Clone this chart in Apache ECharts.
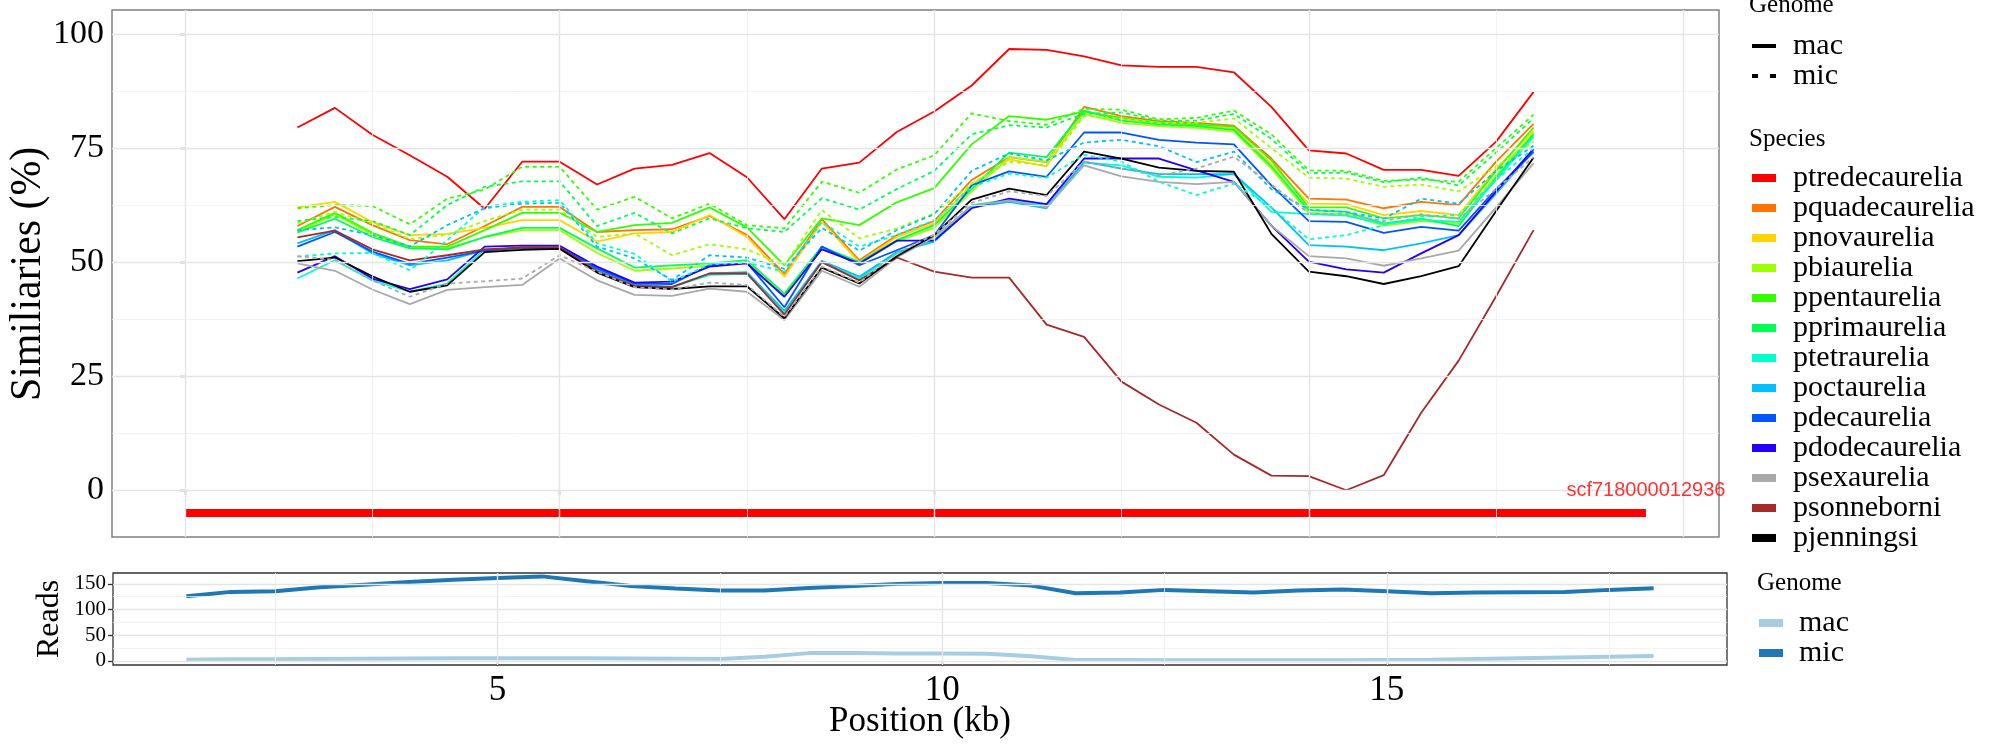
<!DOCTYPE html>
<html>
<head>
<meta charset="utf-8">
<script src="https://cdn.jsdelivr.net/npm/echarts@6/dist/echarts.min.js"></script>
<style>html,body{margin:0;padding:0;background:#fff;}#chart{width:2000px;height:750px;}</style>
</head>
<body>
<div id="chart"></div>
<script>
// ---------------- data ----------------
const positions = [1.5,2,2.5,3,3.5,4,4.5,5,5.5,6,6.5,7,7.5,8,8.5,9,9.5,10,10.5,11,11.5,12,12.5,13,13.5,14,14.5,15,15.5,16,16.5,17,17.5,18];

const species = ['ptredecaurelia','pquadecaurelia','pnovaurelia','pbiaurelia','ppentaurelia','pprimaurelia','ptetraurelia','poctaurelia','pdecaurelia','pdodecaurelia','psexaurelia','psonneborni','pjenningsi'];
const speciesColors = ['#FF0000','#FF7500','#FFD400','#9EFF00','#33FF00','#00FF55','#00FFCC','#00C0FF','#0055FF','#2200FF','#A9A9A9','#A52A2A','#000000'];

// similarity (%) - mac genome (solid)
const ptredecaurelia_mac = [79.5,83.8,77.9,73.4,68.7,61.7,72.0,72.0,67.0,70.5,71.3,73.9,68.6,59.4,70.5,71.8,78.5,83.0,88.7,96.7,96.5,95.1,93.1,92.8,92.8,91.6,84.0,74.5,73.8,70.2,70.2,68.9,76.4,87.3];
const pquadecaurelia_mac = [57.9,62.1,58.1,54.8,53.9,57.9,62.1,62.1,56.6,57.0,57.2,60.1,56.0,47.4,59.4,50.4,55.9,59.0,68.0,73.0,71.9,84.0,82.0,80.9,80.5,79.9,72.7,63.9,63.7,61.8,63.2,62.5,72.0,80.3];
const pnovaurelia_mac = [62.0,63.2,58.8,55.9,56.2,57.5,59.2,59.2,54.5,56.3,56.6,60.3,55.5,46.8,58.8,50.0,55.5,58.5,67.0,72.5,71.0,83.0,81.5,80.5,80.0,79.3,71.5,62.8,62.7,60.3,61.2,60.3,70.5,78.8];
const pbiaurelia_mac = [56.5,60.5,56.0,53.2,53.0,55.5,57.0,57.0,52.0,48.1,48.6,49.2,50.0,42.6,53.0,49.6,54.5,57.5,65.5,73.0,72.0,82.5,80.5,79.8,79.4,78.6,70.5,60.8,60.5,58.0,59.0,58.5,69.0,78.4];
const ppentaurelia_mac = [57.0,60.8,56.4,53.4,53.4,57.0,60.8,60.8,56.6,58.1,58.6,62.0,57.6,49.3,59.6,58.1,63.1,66.2,75.8,82.0,81.2,83.0,81.6,80.5,80.2,79.7,72.3,62.0,62.0,59.6,60.3,59.6,70.0,79.5];
const pprimaurelia_mac = [56.5,59.5,55.5,53.0,52.8,55.5,57.5,57.5,53.0,48.8,49.3,49.7,50.4,43.1,53.4,50.0,54.8,58.1,66.0,74.0,73.0,83.2,81.0,80.2,79.8,79.0,71.0,61.4,61.0,58.5,59.5,57.9,68.5,78.0];
const ptetraurelia_mac = [46.4,50.4,46.0,43.5,45.3,52.8,53.0,53.0,48.0,44.8,44.5,47.2,47.4,38.8,50.0,46.4,51.9,54.8,62.5,63.7,62.3,71.8,71.2,68.7,68.5,69.3,61.0,60.5,60.2,58.3,59.3,58.8,68.0,77.5];
const poctaurelia_mac = [54.1,57.0,51.9,49.3,50.4,52.6,53.0,53.0,48.3,45.0,44.6,47.5,47.8,39.3,50.3,46.8,52.2,54.5,62.0,63.2,61.8,72.0,70.5,69.3,69.3,69.3,62.0,53.7,53.4,52.6,54.1,55.9,65.0,74.5];
const pdecaurelia_mac = [53.4,56.6,52.3,49.6,51.0,52.5,53.2,53.2,48.6,45.3,45.2,49.3,49.9,40.1,53.4,49.3,52.6,55.9,66.8,69.9,68.7,78.4,78.4,76.8,76.2,75.8,66.8,59.0,58.8,56.4,57.7,56.9,66.0,74.1];
const pdodecaurelia_mac = [47.7,51.3,46.4,44.1,46.2,53.4,53.6,53.6,49.0,45.5,45.7,49.0,49.7,42.4,52.8,49.7,54.7,54.7,61.8,63.9,62.7,72.7,72.7,72.7,70.1,67.6,58.0,50.1,48.4,47.7,51.9,55.9,65.5,74.8];
const psexaurelia_mac = [49.7,48.1,44.0,40.8,43.9,44.5,45.0,50.8,46.0,42.8,42.6,44.2,43.5,37.3,48.1,44.6,51.0,55.5,62.3,63.5,62.0,71.2,68.8,67.6,67.1,67.6,58.0,51.3,50.8,49.2,50.8,52.5,62.0,71.7];
const psonneborni_mac = [55.4,56.9,52.8,50.4,51.5,52.8,53.2,53.2,48.0,44.8,44.5,47.5,47.5,38.5,50.0,46.0,51.0,47.9,46.6,46.6,36.3,33.6,23.8,18.8,14.8,7.8,3.2,3.1,0.0,3.3,17.0,28.4,42.5,57.0];
const pjenningsi_mac = [50.2,51.0,46.9,43.5,44.9,52.2,52.7,52.9,47.7,44.5,44.1,44.7,44.7,37.7,48.8,45.3,51.3,55.9,63.7,66.1,64.7,74.2,72.7,70.7,70.0,69.8,56.2,47.9,46.9,45.2,46.9,49.1,61.2,72.9];

// similarity (%) - mic genome (dashed)
const pbiaurelia_mic = [58.5,61.0,58.5,55.0,56.0,59.0,61.5,61.5,55.5,56.3,51.5,53.9,52.8,49.3,61.4,55.2,57.4,60.7,67.2,72.0,71.2,82.0,81.5,80.5,80.5,81.5,75.0,68.5,68.3,66.5,67.0,65.5,71.0,76.4];
const ppentaurelia_mic = [61.8,62.5,62.3,58.3,63.9,65.9,70.9,70.9,61.5,64.3,59.6,62.8,58.1,57.4,67.6,65.2,70.3,73.4,82.6,80.9,80.1,83.6,83.4,81.3,81.6,83.2,78.0,70.1,70.0,67.8,68.1,67.6,75.0,82.3];
const pprimaurelia_mic = [59.0,59.9,59.0,55.9,62.5,66.5,67.7,67.7,57.9,60.8,56.3,59.6,57.4,56.6,64.0,61.5,66.0,70.0,78.0,80.0,79.5,82.5,82.8,81.0,81.0,82.5,77.0,69.5,69.6,67.5,68.5,66.8,74.0,81.5];
const ptetraurelia_mic = [51.2,51.9,52.0,48.2,54.8,62.1,63.2,63.6,54.1,51.8,45.7,49.5,49.9,47.9,58.8,53.4,55.9,59.2,66.5,69.4,68.5,73.5,72.0,67.6,64.7,67.2,62.0,55.0,55.9,58.1,60.0,60.3,68.0,75.0];
const poctaurelia_mic = [57.0,57.6,55.9,53.4,58.1,61.8,62.8,63.0,53.4,50.8,46.1,51.5,51.0,48.5,57.5,52.5,57.0,60.5,70.0,73.8,72.3,76.2,76.8,75.4,71.9,74.2,66.0,61.5,61.0,59.5,63.9,62.8,70.0,75.5];
const psexaurelia_mic = [51.3,50.5,46.0,42.4,45.3,45.8,46.4,51.5,47.9,44.5,44.0,45.5,45.0,38.0,49.0,45.5,52.0,56.0,63.0,65.5,64.5,72.0,70.5,69.0,70.5,73.1,67.0,60.7,60.5,59.0,60.5,59.5,66.0,73.0];

// contig bar
const contigName = 'scf718000012936';
const contigStart = 0;
const contigEnd = 19.5;
const contigY = -5;

// read counts
const reads_mac = [2,3,3,3.5,4,4.5,5,5,5,5,4.5,4,3.5,8,15,15,14.5,14.5,14,9,1.5,1.5,1,1,1,1,1,1.5,2,3.5,5,6.5,8,9.5];
const reads_mic = [126,134.4,135.7,143.4,148.5,153.7,158.2,161.4,164.6,155,146,140.8,137,137,142,146,150,151.8,151.8,146.6,131.8,133,138.3,135.7,133,137,139,135.7,131.8,133,133.8,134.4,138.3,141.5];

// tick labels
const simTicks = [0,25,50,75,100];
const simMinor = [12.5,37.5,62.5,87.5];
const topXTicks = [0,5,10,15,20];
const topXMinor = [2.5,7.5,12.5,17.5];
const readTicks = [0,50,100,150];
const readMinor = [25,75,125];
const kbTicks = [5,10,15];
const kbMinor = [2.5,7.5,12.5,17.5];

// ---------------- chart ----------------
const macArrays = {ptredecaurelia:ptredecaurelia_mac,pquadecaurelia:pquadecaurelia_mac,pnovaurelia:pnovaurelia_mac,pbiaurelia:pbiaurelia_mac,ppentaurelia:ppentaurelia_mac,pprimaurelia:pprimaurelia_mac,ptetraurelia:ptetraurelia_mac,poctaurelia:poctaurelia_mac,pdecaurelia:pdecaurelia_mac,pdodecaurelia:pdodecaurelia_mac,psexaurelia:psexaurelia_mac,psonneborni:psonneborni_mac,pjenningsi:pjenningsi_mac};
const micArrays = {pbiaurelia:pbiaurelia_mic,ppentaurelia:ppentaurelia_mic,pprimaurelia:pprimaurelia_mic,ptetraurelia:ptetraurelia_mic,poctaurelia:poctaurelia_mic,psexaurelia:psexaurelia_mic};

const SERIF = '"Liberation Serif","Times New Roman",serif';
const pair = (arr) => arr.map((v,i)=>[positions[i], v]);
const colorOf = {};
species.forEach((s,i)=>colorOf[s]=speciesColors[i]);

const majorGrid = {color:'#E5E5E5', width:1.4, type:'solid'};
const minorGrid = {color:'#F0F0F0', width:0.8, type:'solid'};
function gridLines(xMaj,xMin,yMaj,yMin){
  const d=[];
  xMin.forEach(v=>d.push({xAxis:v,lineStyle:minorGrid}));
  yMin.forEach(v=>d.push({yAxis:v,lineStyle:minorGrid}));
  xMaj.forEach(v=>d.push({xAxis:v,lineStyle:majorGrid}));
  yMaj.forEach(v=>d.push({yAxis:v,lineStyle:majorGrid}));
  return d;
}

const series = [];
series.push({type:'line',name:'_g0',xAxisIndex:0,yAxisIndex:0,data:[],z:0,silent:true,
  markLine:{silent:true,symbol:['none','none'],label:{show:false},animation:false,data:gridLines(topXTicks,topXMinor,simTicks,simMinor)}});
series.push({type:'line',name:'_g1',xAxisIndex:1,yAxisIndex:1,data:[],z:0,silent:true,
  markLine:{silent:true,symbol:['none','none'],label:{show:false},animation:false,data:gridLines(kbTicks,kbMinor,readTicks,readMinor)}});

species.forEach(s=>{
  series.push({type:'line',name:s,xAxisIndex:0,yAxisIndex:0,data:pair(macArrays[s]),symbol:'none',
    lineStyle:{color:colorOf[s],width:1.8},itemStyle:{color:colorOf[s]},z:3});
});
species.forEach(s=>{
  if(!micArrays[s]) return;
  series.push({type:'line',name:s,xAxisIndex:0,yAxisIndex:0,data:pair(micArrays[s]),symbol:'none',
    lineStyle:{color:colorOf[s],width:1.8,type:[4,3.5]},itemStyle:{color:colorOf[s]},z:3});
});
series.push({type:'line',name:'_contig',xAxisIndex:0,yAxisIndex:0,data:[[contigStart,contigY],[contigEnd,contigY]],symbol:'none',
  lineStyle:{color:'#FF0000',width:8,cap:'butt'},z:4,silent:true});
series.push({type:'scatter',name:'_contigLabel',xAxisIndex:0,yAxisIndex:0,data:[[contigEnd,0]],symbolSize:0,z:5,silent:true,
  label:{show:true,position:'inside',formatter:contigName,color:'#FF0000',fontFamily:'"Liberation Sans",Arial,sans-serif',fontSize:20}});
series.push({type:'line',name:'mac',xAxisIndex:0,yAxisIndex:0,data:[],symbol:'none',itemStyle:{color:'#000'},lineStyle:{color:'#000'}});
series.push({type:'line',name:'mic',xAxisIndex:0,yAxisIndex:0,data:[],symbol:'none',itemStyle:{color:'#000'},lineStyle:{color:'#000',type:'dashed'}});
series.push({type:'line',name:'Reads mac',xAxisIndex:1,yAxisIndex:1,data:pair(reads_mac),symbol:'none',
  lineStyle:{color:'#A6CEE3',width:4},itemStyle:{color:'#A6CEE3'},z:3});
series.push({type:'line',name:'Reads mic',xAxisIndex:1,yAxisIndex:1,data:pair(reads_mic),symbol:'none',
  lineStyle:{color:'#1F78B4',width:4},itemStyle:{color:'#1F78B4'},z:3});

const tickStyle = {show:true,length:5,lineStyle:{color:'#333',width:1.3}};

const option = {
  animation:false,
  backgroundColor:'#fff',
  grid:[
    {left:112,top:10,width:1607,height:527,show:true,borderColor:'#808080',borderWidth:1.5,backgroundColor:'transparent',containLabel:false},
    {left:113,top:573,width:1614,height:92,show:true,borderColor:'#333',borderWidth:1.3,backgroundColor:'transparent',containLabel:false}
  ],
  xAxis:[
    {type:'value',gridIndex:0,min:-0.975,max:20.475,axisLine:{show:false},splitLine:{show:false},
      axisTick:Object.assign({customValues:topXTicks},tickStyle),axisLabel:{show:false,customValues:topXTicks}},
    {type:'value',gridIndex:1,min:0.675,max:18.825,axisLine:{show:false},splitLine:{show:false},
      axisTick:Object.assign({customValues:kbTicks},tickStyle),
      axisLabel:{customValues:kbTicks,fontFamily:SERIF,fontSize:35,color:'#000',margin:8}}
  ],
  yAxis:[
    {type:'value',gridIndex:0,min:-10.25,max:105.25,axisLine:{show:false},splitLine:{show:false},
      axisTick:Object.assign({customValues:simTicks},tickStyle),
      axisLabel:{customValues:simTicks,fontFamily:SERIF,fontSize:34,color:'#000',margin:8}},
    {type:'value',gridIndex:1,min:-8.15,max:171.2,axisLine:{show:false},splitLine:{show:false},
      axisTick:Object.assign({customValues:readTicks},tickStyle),
      axisLabel:{customValues:readTicks,fontFamily:SERIF,fontSize:21,color:'#000',margin:7}}
  ],
  legend:[
    {orient:'vertical',left:1752,top:31,padding:0,itemGap:0,itemWidth:24,itemHeight:4,selectedMode:false,
      data:[{name:'mac',icon:'path://M0,0h24v4h-24z'},{name:'mic',icon:'path://M0,0h6v4h-6zM18,0h6v4h-6z'}],
      itemStyle:{borderWidth:0},
      textStyle:{fontFamily:SERIF,fontSize:30,color:'#000',lineHeight:29,padding:[0,0,0,12]}},
    {orient:'vertical',left:1752,top:163,padding:0,itemGap:0,itemWidth:24,itemHeight:8,selectedMode:false,
      data:species.map(s=>({name:s,icon:'rect',itemStyle:{color:colorOf[s],borderWidth:0}})),
      itemStyle:{borderWidth:0},
      textStyle:{fontFamily:SERIF,fontSize:30,color:'#000',lineHeight:30,padding:[0,0,0,12]}},
    {orient:'vertical',left:1759,top:608,padding:0,itemGap:0,itemWidth:24,itemHeight:8,selectedMode:false,
      data:[{name:'Reads mac',icon:'rect'},{name:'Reads mic',icon:'rect'}],
      formatter:(n)=>n.replace('Reads ',''),
      itemStyle:{borderWidth:0},
      textStyle:{fontFamily:SERIF,fontSize:30,color:'#000',lineHeight:29,padding:[0,0,0,11]}}
  ],
  graphic:[
    {type:'text',x:28,y:274,rotation:Math.PI/2,scaleX:0.95,style:{text:'Similiaries (%)',font:'44px '+SERIF,fill:'#000',textAlign:'center',textVerticalAlign:'middle'}},
    {type:'text',x:50,y:619,rotation:Math.PI/2,style:{text:'Reads',font:'32px '+SERIF,fill:'#000',textAlign:'center',textVerticalAlign:'middle'}},
    {type:'text',x:920,y:722,style:{text:'Position (kb)',font:'35px '+SERIF,fill:'#000',textAlign:'center',textVerticalAlign:'middle'}},
    {type:'text',x:1749,y:5,style:{text:'Genome',font:'25px '+SERIF,fill:'#000',textAlign:'left',textVerticalAlign:'middle'}},
    {type:'text',x:1749,y:139,style:{text:'Species',font:'25px '+SERIF,fill:'#000',textAlign:'left',textVerticalAlign:'middle'}},
    {type:'text',x:1757,y:583,style:{text:'Genome',font:'25px '+SERIF,fill:'#000',textAlign:'left',textVerticalAlign:'middle'}}
  ],
  series:series
};
const chart = echarts.init(document.getElementById('chart'),null,{renderer:'canvas'});
chart.setOption(option);
</script>
</body>
</html>
